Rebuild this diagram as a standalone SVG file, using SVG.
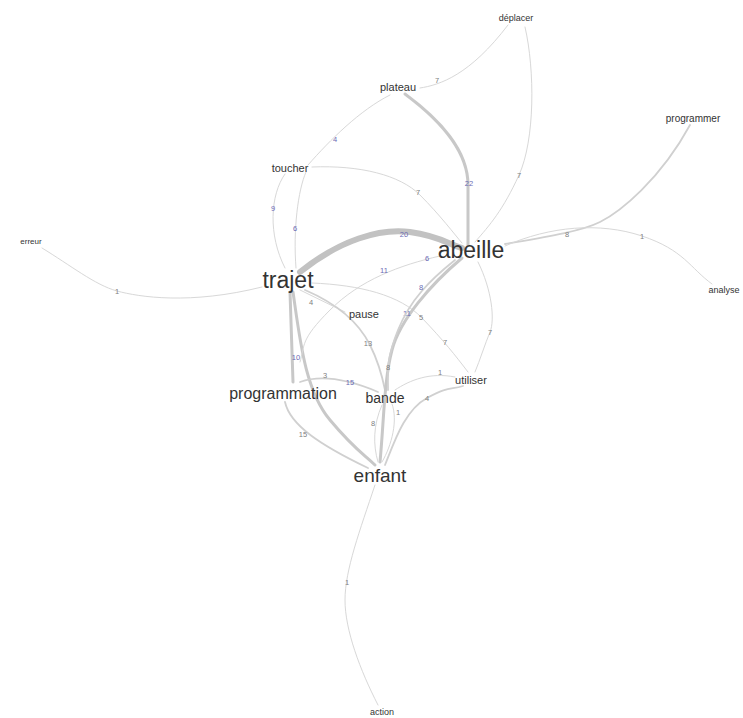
<svg xmlns="http://www.w3.org/2000/svg" width="743" height="718" viewBox="0 0 743 718">
<style>
.e{fill:none;stroke:#d8d8d8;stroke-linecap:round}
.w1{stroke-width:1}
.w2{stroke-width:1.8;stroke:#d0d0d0}
.w3{stroke-width:3;stroke:#c8c8c8}
.w6{stroke-width:6;stroke:#c2c2c2}
.l{font-family:"Liberation Sans",Arial,sans-serif;font-size:7.5px;fill:#808080;text-anchor:middle;dominant-baseline:central}
.b{fill:#6a6ab4}
.n{font-family:"Liberation Sans",Arial,sans-serif;fill:#333;text-anchor:middle;dominant-baseline:central}
</style>
<rect width="743" height="718" fill="#fff"/>
<g id="edges">
<g><path class="e w6" d="M300 272 C340 240 380 228 410 232 S450 245 462 248"/><text class="l b" x="404" y="234">20</text></g>
<g><path class="e w3" d="M405 94 C440 120 468 150 468 185 L468 245"/><text class="l b" x="469" y="183">22</text></g>
<g><path class="e w1" d="M390 95 C360 110 330 140 308 165"/><text class="l b" x="335" y="139">4</text></g>
<g><path class="e w1" d="M306 172 C298 190 293 230 296 268"/><text class="l b" x="295" y="228">6</text></g>
<g><path class="e w1" d="M285 174 C270 195 268 235 285 268"/><text class="l b" x="273" y="208">9</text></g>
<g><path class="e w1" d="M312 167 C360 165 400 175 420 195 S455 235 462 243"/><text class="l" x="418" y="192">7</text></g>
<g><path class="e w1" d="M420 88 C440 85 470 75 508 25"/><text class="l" x="437" y="80">7</text></g>
<g><path class="e w1" d="M525 27 C535 70 535 140 519 175 S490 225 475 242"/><text class="l" x="519" y="175">7</text></g>
<g><path class="e w2" d="M505 244 C540 238 580 232 600 222 S660 180 690 125"/><text class="l" x="567" y="234">8</text></g>
<g><path class="e w1" d="M505 246 C550 226 600 222 642 236 S690 268 712 284"/><text class="l" x="642" y="236">1</text></g>
<g><path class="e w1" stroke="#e4e4e4" d="M42 248 C70 265 95 285 117 291 S190 305 262 287"/><text class="l" x="117" y="291">1</text></g>
<g><path class="e w3" d="M290 292 L293 382"/><text class="l b" x="296" y="357">10</text></g>
<g><path class="e w3" d="M293 292 C300 340 305 390 330 420 S365 455 375 465"/></g>
<g><path class="e w2" d="M285 402 C290 425 320 445 368 468"/><text class="l" x="303" y="434">15</text></g>
<g><path class="e w1" d="M300 290 L345 312"/><text class="l" x="311" y="302">4</text></g>
<g><path class="e w2" d="M305 290 C340 305 360 325 370 345 S383 380 385 390"/><text class="l" x="368" y="343">13</text></g>
<g><path class="e w1" d="M312 283 C360 285 400 295 422 318 S455 355 468 372"/><text class="l" x="421" y="317">5</text><text class="l" x="445" y="342">7</text></g>
<g><path class="e w1" d="M440 256 C400 265 360 280 330 310 S305 345 300 362"/><text class="l b" x="427" y="258">6</text><text class="l b" x="384" y="270">11</text></g>
<g><path class="e w3" d="M462 258 C430 285 400 320 392 350 S384 420 380 462"/><text class="l b" x="407" y="313">11</text></g>
<g><path class="e w2" d="M455 260 C430 280 410 300 398 330 S388 370 388 390"/><text class="l b" x="421" y="287">8</text><text class="l" x="388" y="367">8</text></g>
<g><path class="e w1" d="M382 405 C373 425 373 445 378 462"/><text class="l" x="373" y="423">8</text></g>
<g><path class="e w1" d="M478 262 C492 290 495 320 490 332 S480 360 475 372"/><text class="l" x="490" y="332">7</text></g>
<g><path class="e w2" d="M300 382 C320 375 345 378 378 392"/><text class="l" x="325" y="375">3</text><text class="l b" x="350" y="382">15</text></g>
<g><path class="e w1" d="M395 390 C410 380 430 372 455 377"/><text class="l" x="440" y="372">1</text></g>
<g><path class="e w2" d="M385 465 C395 440 405 410 427 398 S450 390 463 386"/><text class="l" x="427" y="398">4</text></g>
<g><path class="e w1" d="M392 404 C398 420 392 445 382 462"/><text class="l" x="398" y="412">1</text></g>
<g><path class="e w1" stroke="#e4e4e4" d="M375 485 C360 530 345 570 345 600 S360 670 378 705"/><text class="l" x="347" y="582">1</text></g>
</g>
<g id="n-deplacer"><text class="n" x="516" y="18" font-size="9" fill="#555">déplacer</text></g>
<g id="n-plateau"><text class="n" x="398" y="87" font-size="11">plateau</text></g>
<g id="n-programmer"><text class="n" x="693" y="118" font-size="10" fill="#555">programmer</text></g>
<g id="n-toucher"><text class="n" x="290" y="168" font-size="11">toucher</text></g>
<g id="n-abeille"><text class="n" x="471" y="250" font-size="23" fill="#222">abeille</text></g>
<g id="n-erreur"><text class="n" x="31" y="241" font-size="8" fill="#555">erreur</text></g>
<g id="n-trajet"><text class="n" x="288" y="280" font-size="23" fill="#222">trajet</text></g>
<g id="n-analyse"><text class="n" x="724" y="290" font-size="9" fill="#555">analyse</text></g>
<g id="n-pause"><text class="n" x="364" y="314" font-size="11">pause</text></g>
<g id="n-utiliser"><text class="n" x="471" y="380" font-size="11">utiliser</text></g>
<g id="n-programmation"><text class="n" x="283" y="393" font-size="16" fill="#222">programmation</text></g>
<g id="n-bande"><text class="n" x="385" y="398" font-size="14" fill="#222">bande</text></g>
<g id="n-enfant"><text class="n" x="380" y="475" font-size="19" fill="#222">enfant</text></g>
<g id="n-action"><text class="n" x="382" y="712" font-size="9" fill="#555">action</text></g>
</svg>
